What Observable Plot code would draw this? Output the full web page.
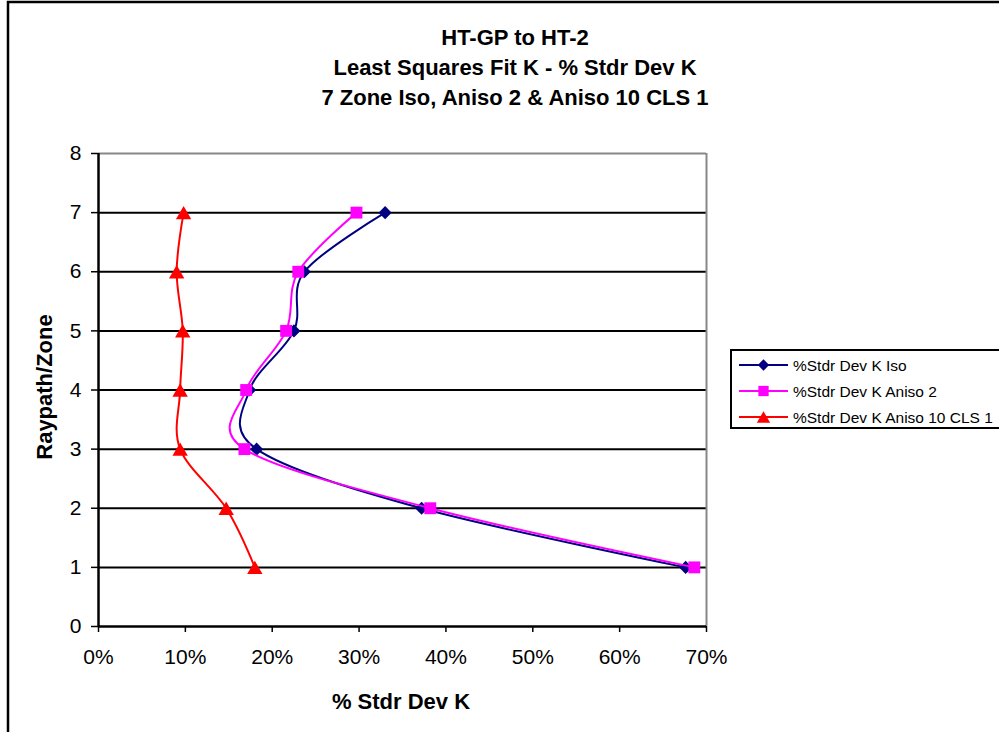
<!DOCTYPE html>
<html><head><meta charset="utf-8">
<script src="https://cdn.jsdelivr.net/npm/d3@7"></script>
<script src="https://cdn.jsdelivr.net/npm/@observablehq/plot@0.6"></script>
<style>
body{margin:0;background:#fff}
#wrap{position:relative;width:999px;height:732px;overflow:hidden;font-family:"Liberation Sans",Arial,sans-serif;background:#fff}
#wrap svg{position:absolute;left:0;top:0}
</style>
</head><body><div id="wrap"></div>
<script>
// ---- data ----
const zones = [1, 2, 3, 4, 5, 6, 7];
const isoPct = [67.6, 37.2, 18.2, 17.4, 22.5, 23.7, 33.0];
const aniso2Pct = [68.6, 38.2, 16.8, 17.0, 21.6, 23.0, 29.7];
const aniso10Pct = [18.0, 14.7, 9.4, 9.4, 9.7, 9.0, 9.8];
const seriesNames = ["%Stdr Dev K Iso", "%Stdr Dev K Aniso 2", "%Stdr Dev K Aniso 10 CLS 1"];
const seriesColors = ["#000080", "#FF00FF", "#FF0000"];
const xTicks = [0, 10, 20, 30, 40, 50, 60, 70];
const yTicks = [0, 1, 2, 3, 4, 5, 6, 7, 8];
const titleLines = ["HT-GP to HT-2", "Least Squares Fit K - % Stdr Dev K", "7 Zone Iso, Aniso 2 & Aniso 10 CLS 1"];
const xLabel = "% Stdr Dev K";
const yLabel = "Raypath/Zone";

const mk = vals => zones.map((z, i) => ({zone: z, pct: vals[i]}));
const isoData = mk(isoPct), an2Data = mk(aniso2Pct), an10Data = mk(aniso10Pct);

const font = "Liberation Sans, Arial, sans-serif";
const symDefs = [
  {sym: "diamond2", r: 5.9, dy: 0},
  {sym: "square", r: 6.7, dy: 0},
  {sym: "triangle", r: 5.7, dy: 2.2}
];

const seriesMarks = [isoData, an2Data, an10Data].flatMap((data, i) => [
  Plot.line(data, {x: "pct", y: "zone", stroke: seriesColors[i], strokeWidth: 2, curve: "cardinal"}),
  Plot.dot(data, {x: "pct", y: "zone", symbol: symDefs[i].sym, r: symDefs[i].r, dy: symDefs[i].dy, fill: seriesColors[i], stroke: "none"})
]);

const chart = Plot.plot({
  width: 999, height: 732,
  marginLeft: 98, marginRight: 293, marginTop: 153, marginBottom: 106,
  style: {fontFamily: font, color: "#000", background: "transparent", overflow: "visible"},
  x: {domain: [0, 70]},
  y: {domain: [0, 8]},
  marks: [
    Plot.ruleY(yTicks.filter(v => v > 0 && v < 8), {stroke: "#000", strokeWidth: 2}),
    Plot.ruleY([8], {stroke: "#888", strokeWidth: 2}),
    Plot.ruleX([70], {stroke: "#888", strokeWidth: 2}),
    Plot.axisX({ticks: xTicks, tickFormat: d => d + "%", tickSize: 6, tickPadding: 17, label: null, fontSize: 21, strokeWidth: 1.5}),
    Plot.axisY({ticks: yTicks, tickSize: 7, tickPadding: 10, label: null, fontSize: 21, strokeWidth: 1.5}),
    Plot.ruleX([0], {stroke: "#000", strokeWidth: 2.5}),
    Plot.ruleY([0], {stroke: "#000", strokeWidth: 2.5}),
    ...seriesMarks
  ]
});

const wrap = document.getElementById("wrap");
wrap.appendChild(chart);

// ---- overlay: border, titles, axis titles, legend ----
const ov = d3.select(wrap).append("svg")
  .attr("width", 999).attr("height", 732)
  .style("pointer-events", "none")
  .attr("font-family", font);

ov.append("rect").attr("x", 8).attr("y", 2).attr("width", 1020).attr("height", 770)
  .attr("fill", "none").attr("stroke", "#000").attr("stroke-width", 2.5);

ov.selectAll("text.title").data(titleLines).join("text")
  .attr("class", "title")
  .attr("x", 515).attr("y", (d, i) => 45 + i * 30)
  .attr("text-anchor", "middle").attr("font-weight", "bold").attr("font-size", 22)
  .text(d => d);

ov.append("text").attr("x", 401).attr("y", 709)
  .attr("text-anchor", "middle").attr("font-weight", "bold").attr("font-size", 22)
  .text(xLabel);

ov.append("text").attr("transform", "translate(52,387) rotate(-90)")
  .attr("text-anchor", "middle").attr("font-weight", "bold").attr("font-size", 22)
  .text(yLabel);

const lg = ov.append("g");
lg.append("rect").attr("x", 731).attr("y", 350).attr("width", 280).attr("height", 78)
  .attr("fill", "#fff").attr("stroke", "#000").attr("stroke-width", 2);
const symMap = {diamond2: d3.symbolDiamond2, square: d3.symbolSquare, triangle: d3.symbolTriangle};
seriesNames.forEach((name, i) => {
  const y = 365 + i * 26;
  lg.append("line").attr("x1", 739).attr("x2", 788).attr("y1", y).attr("y2", y)
    .attr("stroke", seriesColors[i]).attr("stroke-width", 2);
  const s = symDefs[i];
  lg.append("path")
    .attr("d", d3.symbol(symMap[s.sym], Math.PI * s.r * s.r * 0.75)())
    .attr("transform", `translate(763.5,${y + s.dy * 0.85})`)
    .attr("fill", seriesColors[i]);
  lg.append("text").attr("x", 793).attr("y", y + 5.5).attr("font-size", 15.5).text(name);
});
</script>
</body></html>
